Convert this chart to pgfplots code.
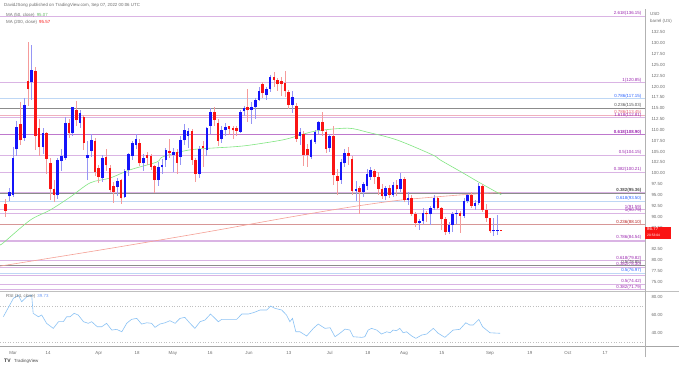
\documentclass[border=0pt]{standalone}
\usepackage{pgfplots}
\pgfplotsset{compat=1.18}
\usepackage{pgfplotstable}
\usepackage{fontspec}
\setmainfont{Liberation Sans}
\definecolor{upc}{RGB}{20,20,250}
\definecolor{dnc}{RGB}{250,20,20}
\definecolor{upw}{RGB}{150,150,245}
\definecolor{dnw}{RGB}{245,155,155}
\definecolor{fibp}{RGB}{218,180,228}
\definecolor{fibpd}{RGB}{190,120,205}
\definecolor{fibpt}{RGB}{156,39,176}
\definecolor{fibb}{RGB}{190,215,245}
\definecolor{fibbt}{RGB}{41,98,255}
\definecolor{fibg}{RGB}{140,140,140}
\definecolor{fibgt}{RGB}{80,80,80}
\definecolor{fibr}{RGB}{215,150,150}
\definecolor{fibrt}{RGB}{183,28,28}
\definecolor{fibk}{RGB}{240,175,190}
\definecolor{fibkt}{RGB}{229,95,110}
\definecolor{maf}{RGB}{130,230,130}
\definecolor{mas}{RGB}{245,160,150}
\definecolor{rsic}{RGB}{140,195,245}
\definecolor{txt}{RGB}{110,110,110}
\newcommand{\fs}{\fontsize{4.4}{5}\selectfont}

\pgfplotstableread{
i o h l c
-1 94.7 96.5 93.5 95.6
0 95.0 106.0 94.5 103.5
1 105.5 112.0 104.0 110.6
3 108.1 117.3 107.5 115.7
5 121.1 129.6 117.0 123.8
8 106.0 110.5 104.5 109.2
12 94.9 103.5 94.0 103.0
13 102.8 105.5 100.5 104.0
14 103.5 112.9 103.0 111.5
16 109.2 115.4 108.6 115.2
18 111.6 114.7 110.5 113.9
20 103.5 107.5 98.4 104.2
21 105.1 109.0 103.8 107.6
24 98.8 104.3 97.9 103.5
28 96.8 99.0 94.8 98.2
30 94.5 101.0 94.2 100.5
31 100.7 104.6 99.4 104.4
32 103.9 107.4 103.0 106.9
33 106.5 109.0 105.5 107.9
35 102.3 104.5 100.5 103.5
39 98.4 102.5 97.0 101.4
40 101.4 103.3 99.8 101.9
41 103.0 105.8 101.5 105.3
43 104.3 105.8 100.2 105.0
45 103.7 108.5 101.8 107.6
46 107.6 111.4 106.5 110.0
47 108.7 110.5 105.8 109.8
50 99.8 106.3 98.8 105.7
52 105.3 110.6 104.0 110.4
53 111.0 115.0 109.0 114.2
56 108.0 110.8 106.9 110.0
57 110.0 111.6 108.5 110.6
61 109.6 114.5 109.3 114.2
62 114.3 115.6 113.2 115.1
64 114.6 116.5 111.4 115.3
65 115.2 117.3 112.6 116.9
66 117.0 120.0 116.6 118.9
68 118.0 120.0 117.0 119.4
69 119.5 122.7 118.8 122.1
75 115.7 119.0 113.8 117.6
77 108.7 110.5 106.5 109.6
80 103.8 108.0 103.2 107.6
81 107.3 110.0 106.7 109.5
82 109.9 112.0 109.0 111.8
85 105.8 109.0 104.9 108.5
88 98.4 103.2 97.6 102.6
89 102.3 105.5 101.5 104.6
92 95.9 98.2 93.7 96.4
94 95.6 98.0 94.5 97.5
95 97.0 101.1 96.2 99.9
96 99.2 101.5 98.4 100.8
100 94.7 97.0 93.8 96.7
102 95.0 98.0 94.5 97.3
104 96.4 100.0 95.8 98.6
106 93.9 95.6 92.8 94.4
109 88.5 89.4 87.0 89.0
110 89.0 91.9 88.3 90.8
112 90.5 92.4 88.0 91.9
113 91.9 95.1 91.5 94.3
117 86.5 88.7 85.9 88.1
118 88.1 91.0 86.5 90.5
119 90.5 91.5 88.3 90.8
121 90.2 94.4 89.8 93.7
122 93.7 95.3 93.1 94.9
124 92.5 93.8 91.5 93.1
125 93.1 97.7 92.8 97.0
129 86.6 89.8 85.6 86.9
130 86.7 90.3 85.8 86.9
}\upT

\pgfplotstableread{
i o h l c
-2 93.0 94.0 89.9 91.4
2 111.3 116.4 106.5 107.6
4 121.2 130.2 115.5 119.4
6 123.7 124.5 105.3 108.7
7 110.4 112.5 104.0 106.0
9 109.2 109.5 99.8 103.3
10 102.3 103.5 93.8 96.3
11 96.3 98.5 93.3 95.0
15 111.5 112.5 108.2 109.2
17 114.5 116.6 111.0 112.2
19 112.9 113.5 105.3 106.9
22 107.4 108.2 99.3 100.2
23 101.2 101.9 97.8 99.1
25 103.7 105.5 100.5 101.8
26 101.2 102.0 95.7 96.1
27 97.0 98.0 93.2 95.8
29 98.4 98.6 93.0 94.2
34 107.0 108.0 101.7 102.3
36 104.2 104.8 101.8 103.6
37 103.9 104.5 100.8 101.5
38 101.6 101.9 95.4 98.4
42 105.1 107.8 103.5 104.6
44 105.0 105.5 99.8 102.4
48 109.8 110.1 101.9 103.1
49 103.1 103.5 98.0 99.8
51 106.3 107.5 101.5 105.8
54 114.2 115.3 111.0 112.4
55 111.5 112.5 106.4 107.5
58 110.8 111.0 108.9 110.2
59 110.4 110.9 107.8 109.9
60 110.5 111.0 108.7 109.8
63 115.3 119.5 111.9 114.7
67 120.7 121.0 117.4 118.5
70 122.1 123.3 119.8 121.5
71 121.5 122.0 118.9 120.7
72 121.2 122.2 117.9 120.6
73 120.8 123.7 117.5 118.9
74 118.7 119.3 114.8 115.8
76 115.5 116.2 107.3 108.0
78 109.0 109.8 101.7 104.3
79 105.5 106.7 101.5 104.3
83 111.8 114.1 108.5 109.8
84 109.5 110.0 104.6 105.6
86 108.7 111.0 97.4 99.5
87 99.3 101.0 95.1 98.3
90 104.6 106.0 101.9 104.0
91 103.4 104.0 95.0 95.9
93 96.6 97.0 90.7 95.8
97 100.5 101.0 97.5 99.2
98 99.2 100.2 94.9 96.4
99 96.4 97.6 94.0 94.7
101 96.7 97.4 94.2 95.0
103 97.3 98.4 94.8 96.4
105 98.6 99.2 93.4 93.9
107 94.4 94.9 90.2 90.7
108 90.7 91.0 87.6 88.5
111 90.8 91.2 88.8 90.5
114 94.3 94.5 91.7 92.1
115 92.1 92.3 87.0 89.4
116 89.4 89.9 85.7 86.5
120 90.8 91.3 86.3 90.2
123 94.9 95.6 91.9 92.5
126 97.0 97.6 91.1 91.6
127 91.6 93.0 88.8 89.6
128 89.6 89.8 86.2 86.6
131 86.9 86.95 86.7 86.77
}\dnT

\pgfplotstableread{
i v
-3.5 83.6
-2.7 83.9
4.6 89.2
9.9 91.5
15.3 94.5
20.7 97.8
26.0 98.9
31.4 100.8
38.6 102.6
40.2 103.8
47.5 105.4
59.0 106.1
63.6 106.5
72.4 107.7
77.0 108.8
81.6 109.8
89.9 110.4
95.0 109.5
103.0 107.7
112.7 104.2
114.6 103.1
120.7 100.1
125.3 97.8
131.0 95.07
}\maF

\pgfplotstableread{
i v
-3.5 78.6
23.3 82.3
50.2 86.2
74.3 89.9
90.4 92.2
103.8 93.8
119.9 95.0
131.0 95.57
}\maS

\pgfplotstableread{
i v
-2.6 58.1
0.1 78.6
1.4 82.2
2.3 74.8
3.7 80.3
5.0 82.2
5.4 61.9
6.8 58.1
7.7 60.0
9.0 50.8
10.8 45.2
12.2 52.6
13.5 52.6
14.4 58.1
15.3 58.1
16.4 61.9
17.5 60.0
18.9 52.6
20.2 50.8
21.1 52.6
22.6 47.0
23.8 47.0
25.1 50.8
26.5 43.3
27.8 44.1
29.2 41.4
30.5 50.8
31.8 55.2
33.2 56.3
34.5 50.0
35.9 51.4
37.2 50.8
38.1 46.3
39.4 50.0
40.8 51.4
42.1 53.7
43.5 50.8
44.8 56.3
46.1 57.4
47.5 50.8
48.8 45.2
50.2 52.6
51.5 54.4
53.0 61.1
54.2 56.3
55.1 52.6
56.0 55.2
58.2 55.2
60.0 55.2
61.4 61.1
63.1 61.1
64.5 62.6
66.3 65.6
68.1 65.6
69.1 70.0
70.3 67.4
72.1 65.6
73.4 60.0
74.3 52.6
75.0 56.3
75.9 41.4
77.0 41.4
78.8 36.7
80.6 45.2
81.9 50.0
83.7 45.2
85.1 45.9
86.4 35.9
87.7 39.7
89.1 44.4
90.4 43.3
91.3 35.9
93.6 35.2
94.4 35.9
95.3 43.3
96.2 45.2
97.6 43.3
98.9 38.9
100.3 41.4
101.2 40.3
102.0 43.3
102.9 42.6
103.8 45.2
104.7 40.3
105.6 41.4
107.0 36.7
108.1 34.1
109.7 37.8
111.0 38.9
112.8 45.2
114.1 39.7
115.9 35.2
118.1 43.3
119.9 44.1
121.5 51.4
122.6 48.9
123.5 48.9
125.0 55.2
126.0 47.0
128.0 40.3
130.7 39.73
}\rsiT

\begin{document}
\begin{tikzpicture}[x=1pt,y=1pt]
\path[use as bounding box, fill=white] (0,0) rectangle (679,368);
% ---------- main pane
\begin{axis}[at={(0pt,359pt)}, anchor=north west, scale only axis,
  width=645pt, height=282pt,
  xmin=-3.5, xmax=169.6, ymin=72.86, ymax=137.88,
  axis x line=none, axis y line*=right,
  y axis line style={draw=gray!60, line width=0.5pt},
  major tick length=0pt,
  ytick={75,77.5,80,82.5,87.5,90,92.5,95,97.5,100,102.5,105,107.5,110,112.5,115,117.5,120,122.5,125,127.5,130,132.5},
  yticklabels={75.00,77.50,80.00,82.50,87.50,90.00,92.50,95.00,97.50,100.00,102.50,105.00,107.50,110.00,112.50,115.00,117.50,120.00,122.50,125.00,127.50,130.00,132.50},
  yticklabel style={font=\fs, text=txt, anchor=west, xshift=3pt},
  clip mode=individual]
% fib lines
\newcommand{\fib}[3]{%
  \addplot[#2, line width=#3, forget plot] coordinates {(-3.5,#1) (169.6,#1)};}
\fib{136.15}{fibp}{1pt}
\fib{120.85}{fibp}{1pt}
\fib{117.15}{fibb}{1pt}
\fib{115.03}{fibg}{0.9pt}
\fib{113.45}{fibk}{0.9pt}
\fib{112.81}{fibp}{1pt}
\fib{108.90}{fibpd}{1.2pt}
\fib{104.15}{fibp}{1pt}
\fib{100.21}{fibp}{1pt}
\fib{95.60}{fibp}{0.8pt}
\fib{95.36}{fibg}{0.9pt}
\fib{93.50}{fibb}{1pt}
\fib{91.59}{fibp}{1pt}
\fib{90.79}{fibp}{1pt}
\fib{88.10}{fibr}{1pt}
\fib{84.54}{fibp}{1pt}
\fib{84.20}{fibp}{0.8pt}
\fib{79.82}{fibp}{0.8pt}
\fib{78.85}{fibg}{0.9pt}
\fib{78.30}{fibp}{0.8pt}
\fib{76.97}{fibb}{1.1pt}
\fib{76.35}{fibp}{0.8pt}
\fib{74.42}{fibp}{1pt}
\fib{73.15}{fibp}{1pt}
% moving averages
\addplot[mas, line width=0.6pt, smooth] table[x=i,y=v] {\maS};
\addplot[maf, line width=0.6pt, smooth] table[x=i,y=v] {\maF};
% wicks
\addplot[draw=none, mark=none, error bars/.cd, y dir=both, y explicit, error mark=none,
  error bar style={draw=upw, line width=0.7pt}]
  table[x=i, y=o, y error plus expr=\thisrow{h}-\thisrow{o}, y error minus expr=\thisrow{o}-\thisrow{l}] {\upT};
\addplot[draw=none, mark=none, error bars/.cd, y dir=both, y explicit, error mark=none,
  error bar style={draw=dnw, line width=0.7pt}]
  table[x=i, y=o, y error plus expr=\thisrow{h}-\thisrow{o}, y error minus expr=\thisrow{o}-\thisrow{l}] {\dnT};
% bodies
\addplot[draw=none, mark=none, error bars/.cd, y dir=plus, y explicit, error mark=none,
  error bar style={draw=upc, line width=2.6pt}]
  table[x=i, y=o, y error plus expr={max(\thisrow{c}-\thisrow{o},0.25)}] {\upT};
\addplot[draw=none, mark=none, error bars/.cd, y dir=plus, y explicit, error mark=none,
  error bar style={draw=dnc, line width=2.6pt}]
  table[x=i, y=c, y error plus expr={max(\thisrow{o}-\thisrow{c},0.25)}] {\dnT};
% fib labels
\begin{scope}[every node/.style={font=\fs, anchor=south east, inner sep=0.5pt}]
\node[text=fibpt] at (axis cs:168.8,136.15) {2.618(136.15)};
\node[text=fibpt] at (axis cs:168.8,120.85) {1(120.85)};
\node[text=fibbt] at (axis cs:168.8,117.15) {0.786(117.15)};
\node[text=fibgt] at (axis cs:168.8,115.03) {0.236(115.03)};
\node[text=fibkt] at (axis cs:168.8,113.45) {0.786(113.45)};
\node[text=fibpt] at (axis cs:168.8,112.81) {1.618(112.81)};
\node[text=fibpt] at (axis cs:168.8,108.90) {\bfseries 0.618(108.90)};
\node[text=fibpt] at (axis cs:168.8,104.15) {0.5(104.15)};
\node[text=fibpt] at (axis cs:168.8,100.21) {0.382(100.21)};
\node[text=fibgt] at (axis cs:168.8,95.36) {\bfseries 0.382(95.36)};
\node[text=fibbt] at (axis cs:168.8,93.50) {0.618(93.50)};
\node[text=fibpt] at (axis cs:168.8,91.59) {1(91.59)};
\node[text=fibpt] at (axis cs:168.8,90.79) {1(90.79)};
\node[text=fibrt] at (axis cs:168.8,88.10) {0.236(88.10)};
\node[text=fibpt] at (axis cs:168.8,84.54) {0.786(84.54)};
\node[text=fibpt] at (axis cs:168.8,79.82) {0.618(79.82)};
\node[text=fibgt] at (axis cs:168.8,78.85) {0.5(78.85)};
\node[text=fibpt] at (axis cs:168.8,78.30) {0.382(78.30)};
\node[text=fibbt] at (axis cs:168.8,76.97) {0.5(76.97)};
\node[text=fibpt] at (axis cs:168.8,74.42) {0.5(74.42)};
\node[text=fibpt] at (axis cs:168.8,73.15) {0.382(71.79)};
\end{scope}
\end{axis}
% ---------- RSI pane
\begin{axis}[at={(0pt,77pt)}, anchor=north west, scale only axis,
  width=645pt, height=55pt,
  xmin=-3.5, xmax=169.6, ymin=25.6, ymax=86.7,
  axis x line*=bottom, axis y line*=right,
  axis line style={draw=gray!60, line width=0.5pt},
  x axis line style={draw=gray!70, line width=0.9pt},
  major tick length=0pt,
  ytick={40,60,80}, yticklabels={40.00,60.00,80.00},
  yticklabel style={font=\fs, text=txt, anchor=west, xshift=3pt},
  xtick={0,9.4,23,33.3,42.9,52.9,63.3,74,85,95.2,104.9,115.1,128,138.7,148.9,158.9},
  xticklabels={Mar,14,Apr,18,May,16,Jun,13,Jul,18,Aug,15,Sep,19,Oct,17},
  xticklabel style={font=\fs, text=txt, anchor=north, yshift=-1.5pt}]
\addplot[gray!50, dotted, line width=0.6pt, forget plot] coordinates {(-3.5,70) (169.6,70)};
\addplot[gray!50, dotted, line width=0.6pt, forget plot] coordinates {(-3.5,30) (169.6,30)};
\addplot[rsic, line width=0.6pt] table[x=i,y=v] {\rsiT};
\end{axis}
% ---------- frame lines and texts
\draw[gray!50, line width=0.6pt] (0,77) -- (679,77);
\draw[gray!70, line width=0.9pt] (0,22) -- (679,22);
\draw[gray!60, line width=0.5pt] (645,11) -- (645,359);
\node[font=\fs, text=txt, anchor=west, inner sep=0] at (4,363) {DavidJSong published on TradingView.com, Sep 07, 2022 00:06 UTC};
\node[font=\fs, text=txt, anchor=west, inner sep=0] at (6,353) {MA (50, close)\enspace\textcolor{maf!80!black}{95.07}};
\node[font=\fs, text=txt, anchor=west, inner sep=0] at (6,345.5) {MA (200, close)\enspace\textcolor{dnc}{95.57}};
\node[font=\fs, text=txt, anchor=west, inner sep=0] at (6,72) {RSI (14, close)\enspace\textcolor{rsic!80!blue}{39.73}};
\node[font=\fs, text=txt, anchor=west, inner sep=0] at (650,354) {USD};
\node[font=\fs, text=txt, anchor=west, inner sep=0] at (650,347) {barrel (US)};
\fill[dnc] (645,129.5) rectangle (671,141.5);
\node[font=\fs, text=white, anchor=west, inner sep=0] at (647,138.6) {86.77};
\node[font=\fontsize{3.3}{4}\selectfont, text=white, anchor=west, inner sep=0] at (647,132.3) {20:53:04};
\node[font=\fontsize{5}{6}\selectfont\bfseries, text=black!80, anchor=west, inner sep=0] at (4,7) {TV};
\node[font=\fs, text=black!70, anchor=west, inner sep=0] at (14,7) {TradingView};
\end{tikzpicture}
\end{document}
